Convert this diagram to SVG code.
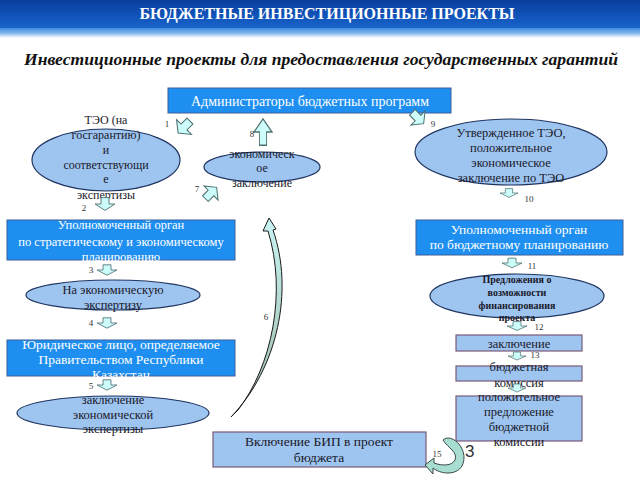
<svg xmlns="http://www.w3.org/2000/svg" width="640" height="480" viewBox="0 0 640 480">
<defs>
<linearGradient id="hdr" x1="0" y1="0" x2="0" y2="1">
<stop offset="0" stop-color="#0a3d9c"/>
<stop offset="0.6" stop-color="#1257bd"/>
<stop offset="1" stop-color="#1a66cc"/>
</linearGradient>
<linearGradient id="stripe" x1="0" y1="0" x2="0" y2="1">
<stop offset="0" stop-color="#3f8be0"/>
<stop offset="0.5" stop-color="#7fb6ee"/>
<stop offset="1" stop-color="#ffffff"/>
</linearGradient>
<linearGradient id="curve6" x1="0" y1="0" x2="0" y2="1">
<stop offset="0" stop-color="#c8f4f4"/>
<stop offset="1" stop-color="#9cb8a8"/>
</linearGradient>
<path id="ba" d="M-4,-8 H4 V0 H10 L0,8 L-10,0 H-4 Z"/>
<style>
text{font-family:'Liberation Serif',serif}
.dk{fill:#1e8ff0;stroke:#3a5f9a;stroke-width:1}
.lt{fill:#9ec4f0;stroke:#7a5a78;stroke-width:1.2}
.el{fill:#9ec4f0;stroke:#1f3560;stroke-width:1.2}
.wt{fill:#ffffff;text-anchor:middle}
.bt{fill:#1a1a2a;text-anchor:middle}
.num{fill:#333;font-size:9px;text-anchor:middle}
.arr{fill:#ccfdfb;stroke:#4f6f70;stroke-width:1}
</style>
</defs>

<g id="header">
<rect x="0" y="0" width="640" height="30" fill="url(#hdr)"/>
<rect x="0" y="28" width="640" height="10" fill="url(#stripe)"/>
<text x="327" y="19" font-weight="bold" font-size="16" fill="#ffffff" text-anchor="middle">БЮДЖЕТНЫЕ ИНВЕСТИЦИОННЫЕ ПРОЕКТЫ</text>
<text x="321" y="65" font-weight="bold" font-style="italic" font-size="17.6" fill="#111" text-anchor="middle">Инвестиционные проекты для предоставления государственных гарантий</text>
</g>

<g id="admin">
<rect class="dk" x="168" y="88" width="283" height="25"/>
<text class="wt" x="310" y="106" font-size="14">Администраторы бюджетных программ</text>
</g>

<g id="teo">
<ellipse class="el" cx="106" cy="160" rx="74" ry="31"/>
<text class="bt" font-size="12"><tspan x="106" y="124">ТЭО (на</tspan><tspan x="106" y="139">госгарантию)</tspan><tspan x="106" y="154">и</tspan><tspan x="106" y="169">соответствующи</tspan><tspan x="106" y="183">е</tspan><tspan x="106" y="199">экспертизы</tspan></text>
</g>

<g id="econ">
<ellipse class="el" cx="262" cy="167" rx="58" ry="15"/>
<text class="bt" font-size="12"><tspan x="262" y="158">экономическ</tspan><tspan x="262" y="172">ое</tspan><tspan x="262" y="187">заключение</tspan></text>
</g>

<g id="approved">
<ellipse class="el" cx="511" cy="152" rx="96" ry="33"/>
<text class="bt" font-size="12.5"><tspan x="511" y="137">Утвержденное ТЭО,</tspan><tspan x="511" y="152">положительное</tspan><tspan x="511" y="167">экономическое</tspan><tspan x="511" y="182">заключение по ТЭО</tspan></text>
</g>

<g id="strategic">
<rect class="dk" x="7" y="220" width="228" height="40"/>
<text class="wt" font-size="12.5"><tspan x="121" y="229">Уполномоченный орган</tspan><tspan x="121" y="246">по стратегическому и экономическому</tspan><tspan x="121" y="261">планированию</tspan></text>
</g>

<g id="budgetplan">
<rect class="dk" x="416" y="220" width="207" height="35"/>
<text class="wt" font-size="13.5"><tspan x="519" y="234">Уполномоченный орган</tspan><tspan x="519" y="249">по бюджетному планированию</tspan></text>
</g>

<g id="expertise">
<ellipse class="el" cx="113" cy="295" rx="87" ry="15"/>
<text class="bt" font-size="12.5"><tspan x="113" y="294">На экономическую</tspan><tspan x="113" y="309">экспертизу</tspan></text>
</g>

<g id="legal">
<rect class="dk" x="7" y="340" width="228" height="36"/>
<text class="wt" font-size="13.5"><tspan x="121" y="349">Юридическое лицо, определяемое</tspan><tspan x="121" y="364">Правительством Республики</tspan><tspan x="121" y="379">Казахстан</tspan></text>
</g>

<g id="conclusion">
<ellipse class="el" cx="113" cy="413" rx="96" ry="17"/>
<text class="bt" font-size="12.5"><tspan x="113" y="404">заключение</tspan><tspan x="113" y="419">экономической</tspan><tspan x="113" y="433">экспертизы</tspan></text>
</g>

<g id="proposal">
<ellipse class="el" cx="517" cy="296" rx="87" ry="22"/>
<text class="bt" font-size="10" font-weight="bold"><tspan x="517" y="283">Предложения о</tspan><tspan x="517" y="296">возможности</tspan><tspan x="517" y="309">финансирования</tspan><tspan x="517" y="321">проекта</tspan></text>
</g>

<g id="zakl">
<rect class="lt" x="456" y="335" width="126" height="16"/>
<text class="bt" font-size="12.5" x="519" y="348">заключение</text>
</g>

<g id="commission">
<rect class="lt" x="456" y="366" width="126" height="15"/>
<text class="bt" font-size="12.5"><tspan x="519" y="371">бюджетная</tspan><tspan x="519" y="387">комиссия</tspan></text>
</g>

<g id="positive">
<rect class="lt" x="456" y="396" width="126" height="45"/>
<text class="bt" font-size="12.5"><tspan x="519" y="401">положительное</tspan><tspan x="519" y="416">предложение</tspan><tspan x="519" y="431">бюджетной</tspan><tspan x="519" y="446">комиссии</tspan></text>
</g>

<g id="include">
<rect class="lt" x="213" y="432" width="213" height="35"/>
<text class="bt" font-size="13.5"><tspan x="319" y="446">Включение БИП в проект</tspan><tspan x="319" y="462">бюджета</tspan></text>
</g>

<g id="connectors">
<use href="#ba" class="arr" transform="translate(184,127) rotate(45) scale(1.05)"/>
<use href="#ba" class="arr" transform="translate(263,132) rotate(180) scale(0.9,1.65)"/>
<use href="#ba" class="arr" transform="translate(211,193) rotate(225)"/>
<use href="#ba" class="arr" transform="translate(418,118) rotate(-45)"/>
<use href="#ba" class="arr" transform="translate(509,193) scale(0.9,0.55)"/>
<use href="#ba" class="arr" transform="translate(105,204) scale(1,0.8)"/>
<use href="#ba" class="arr" transform="translate(107,270) scale(1,0.65)"/>
<use href="#ba" class="arr" transform="translate(107,323) scale(1,0.65)"/>
<use href="#ba" class="arr" transform="translate(107,385) scale(1,0.65)"/>
<use href="#ba" class="arr" transform="translate(512,263) scale(1,0.6)"/>
<use href="#ba" class="arr" transform="translate(517,326) scale(1,0.55)"/>
<use href="#ba" class="arr" transform="translate(517,356) scale(0.9,0.5)"/>
<use href="#ba" class="arr" transform="translate(517,388) scale(0.9,0.5)"/>
<path d="M231,417 C278,368 294,290 273,230 L276,229 L269,218 L263,231 L268,231 C287,292 272,366 238,410 Z" fill="url(#curve6)" stroke="#1a1a1a" stroke-width="1"/>
<path d="M443,440 C452,432 470,450 462,466 C456,476 440,474 433,468 L433,474 L425,465 L434,458 L434,463 C442,466 452,466 455,460 C458,452 448,448 443,440 Z" fill="#a8ddd2" stroke="#3a4a48" stroke-width="1"/>
<text class="num" x="167" y="127">1</text>
<text class="num" x="84" y="211">2</text>
<text class="num" x="91" y="273">3</text>
<text class="num" x="91" y="326">4</text>
<text class="num" x="91" y="389">5</text>
<text class="num" x="266" y="320">6</text>
<text class="num" x="197" y="192">7</text>
<text class="num" x="252" y="137">8</text>
<text class="num" x="433" y="127">9</text>
<text class="num" x="529" y="202">10</text>
<text class="num" x="532" y="269">11</text>
<text class="num" x="539" y="330">12</text>
<text class="num" x="535" y="358">13</text>
<text class="num" x="437" y="457">15</text>
<text x="465" y="457" style="font-family:'Liberation Sans',sans-serif" font-size="17" fill="#333">3</text>
</g>
</svg>
